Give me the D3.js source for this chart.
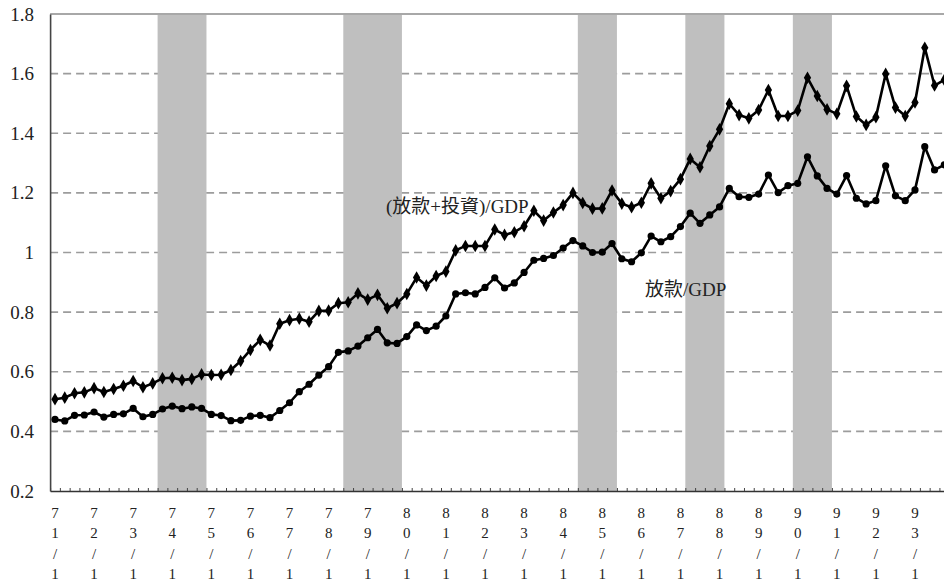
<!DOCTYPE html>
<html>
<head>
<meta charset="utf-8">
<script src="https://cdn.jsdelivr.net/npm/d3@7/dist/d3.min.js"></script>
<style>
  html, body { margin: 0; padding: 0; background: #fff; }
  svg { display: block; }
  .serif { font-family: "Liberation Serif", "Tinos", "Times New Roman", "DejaVu Serif", serif, "Noto Sans CJK TC"; }
</style>
</head>
<body>
<svg id="chart" width="944" height="584"></svg>
<script>
// ---- data ----
const years = ["71","72","73","74","75","76","77","78","79","80","81","82","83","84","85","86","87","88","89","90","91","92","93"];
const quarters = ["1","2","3","4"];
const categories = [];
years.forEach(yy => quarters.forEach(q => categories.push(yy + "Q" + q)));

// (放款+投資)/GDP
const loansInvGDP = [
  0.508,0.513,0.528,0.531, 0.545,0.532,0.542,0.553, 0.569,0.548,0.561,0.578,
  0.580,0.572,0.576,0.591, 0.589,0.590,0.606,0.636, 0.673,0.707,0.688,0.761,
  0.773,0.778,0.768,0.804, 0.805,0.830,0.833,0.863, 0.842,0.858,0.813,0.830,
  0.861,0.916,0.889,0.921, 0.936,1.007,1.022,1.022, 1.022,1.077,1.059,1.068,
  1.088,1.140,1.107,1.134, 1.159,1.200,1.166,1.147, 1.148,1.208,1.164,1.152,
  1.167,1.232,1.182,1.206, 1.246,1.314,1.286,1.357, 1.413,1.499,1.461,1.450,
  1.478,1.545,1.458,1.458, 1.476,1.586,1.525,1.480, 1.465,1.559,1.456,1.428,
  1.454,1.599,1.486,1.458, 1.503,1.687,1.560,1.579
];
// 放款/GDP
const loansGDP = [
  0.440,0.435,0.454,0.455, 0.465,0.448,0.457,0.459, 0.477,0.449,0.457,0.475,
  0.485,0.476,0.482,0.477, 0.457,0.453,0.436,0.437, 0.451,0.454,0.446,0.470,
  0.496,0.533,0.558,0.589, 0.617,0.665,0.670,0.686, 0.714,0.742,0.697,0.695,
  0.718,0.757,0.738,0.753, 0.787,0.861,0.865,0.861, 0.883,0.915,0.881,0.898,
  0.933,0.974,0.980,0.990, 1.015,1.040,1.022,1.000, 1.001,1.030,0.979,0.969,
  0.999,1.055,1.036,1.053, 1.087,1.132,1.098,1.126, 1.153,1.215,1.187,1.185,
  1.196,1.260,1.201,1.224, 1.232,1.321,1.257,1.215, 1.196,1.258,1.182,1.163,
  1.174,1.291,1.190,1.174, 1.210,1.355,1.277,1.294
];
// shaded periods [first quarter, last quarter]
const shadedPeriods = [["73Q4","74Q4"],["78Q3","79Q4"],["84Q3","85Q2"],["87Q2","88Q1"],["90Q1","90Q4"]];
const yTicks = [0.2,0.4,0.6,0.8,1.0,1.2,1.4,1.6,1.8];
const seriesLabels = ["(放款+投資)/GDP", "放款/GDP"];

// ---- layout ----
const svg = d3.select("#chart");
const mLeft = 50.1, mRight = 949.2, mTop = 14, mBottom = 491;

const x = d3.scaleBand().domain(categories).range([mLeft, mRight]).padding(0);
const xIdx = d3.scaleLinear().domain([0, categories.length]).range([mLeft, mRight]);
const y = d3.scaleLinear().domain([0.2, 1.8]).range([mBottom, mTop]);
const cx = c => x(c) + x.bandwidth() / 2;

// gridlines
svg.append("g").selectAll("line")
  .data(yTicks.filter(t => t > 0.21 && t < 1.79))
  .join("line")
  .attr("x1", mLeft).attr("x2", 944)
  .attr("y1", d => y(d)).attr("y2", d => y(d))
  .attr("stroke", "#9c9c9c").attr("stroke-width", 1.6)
  .attr("stroke-dasharray", "8,5");

// shaded bands
svg.append("g").selectAll("rect")
  .data(shadedPeriods)
  .join("rect")
  .attr("x", d => x(d[0]))
  .attr("width", d => x(d[1]) + x.bandwidth() - x(d[0]))
  .attr("y", mTop).attr("height", mBottom - mTop)
  .attr("fill", "#bfbfbf");

// top border
svg.append("line")
  .attr("x1", mLeft).attr("x2", 944).attr("y1", mTop).attr("y2", mTop)
  .attr("stroke", "#a8a8a8").attr("stroke-width", 2);

// y axis
const yAxis = d3.axisLeft(y).tickValues(yTicks).tickSize(0).tickPadding(16)
  .tickFormat(d => d === 1 ? "1" : d3.format(".1f")(d));
const gy = svg.append("g").attr("transform", `translate(${mLeft},0)`).call(yAxis);
gy.attr("font-family", null);
gy.select(".domain").attr("stroke", "#444").attr("stroke-width", 1.6);
gy.selectAll("text").attr("class", "serif").attr("font-size", 19).attr("fill", "#222");

// x axis (quarter boundary ticks)
const xAxis = d3.axisBottom(xIdx).tickValues(d3.range(0, categories.length + 1))
  .tickSizeInner(-3).tickSizeOuter(0).tickFormat("");
const gx = svg.append("g").attr("transform", `translate(0,${mBottom})`).call(xAxis);
gx.select(".domain").attr("stroke", "#333").attr("stroke-width", 1.6);
gx.selectAll(".tick line").attr("stroke", "#444").attr("stroke-width", 1);

// x labels, stacked characters
const labelCats = years.map(yy => yy + "Q1");
const lab = svg.append("g").selectAll("text")
  .data(labelCats)
  .join("text")
  .attr("class", "serif")
  .attr("x", d => cx(d))
  .attr("y", 518)
  .attr("text-anchor", "middle")
  .attr("font-size", 15).attr("fill", "#222");
lab.each(function(d) {
  const yy = d.slice(0, 2);
  const chars = [yy[0], yy[1], "/", "1"];
  const t = d3.select(this);
  chars.forEach((c, i) => {
    t.append("tspan").attr("x", cx(d)).attr("y", 518 + i * 20.3).text(c);
  });
});

// lines
const line = d3.line().x((d, i) => cx(categories[i])).y(d => y(d));

svg.append("path").datum(loansInvGDP).attr("d", line)
  .attr("fill", "none").attr("stroke", "#000").attr("stroke-width", 2.6).attr("stroke-linejoin", "round");
svg.append("path").datum(loansGDP).attr("d", line)
  .attr("fill", "none").attr("stroke", "#000").attr("stroke-width", 2.6).attr("stroke-linejoin", "round");

const diamond = d3.symbol().type(d3.symbolDiamond).size(46);
svg.append("g").selectAll("path")
  .data(loansInvGDP)
  .join("path")
  .attr("d", diamond)
  .attr("transform", (d, i) => `translate(${cx(categories[i])},${y(d)})`)
  .attr("fill", "#000");
svg.append("g").selectAll("circle")
  .data(loansGDP)
  .join("circle")
  .attr("cx", (d, i) => cx(categories[i]))
  .attr("cy", d => y(d))
  .attr("r", 3.6)
  .attr("fill", "#000");

// series labels
svg.append("text").attr("class", "serif").attr("x", 386).attr("y", 213)
  .attr("font-size", 19).attr("fill", "#222")
  .text(seriesLabels[0]);
svg.append("text").attr("class", "serif").attr("x", 645).attr("y", 296)
  .attr("font-size", 19).attr("fill", "#222")
  .text(seriesLabels[1]);
</script>
</body>
</html>
